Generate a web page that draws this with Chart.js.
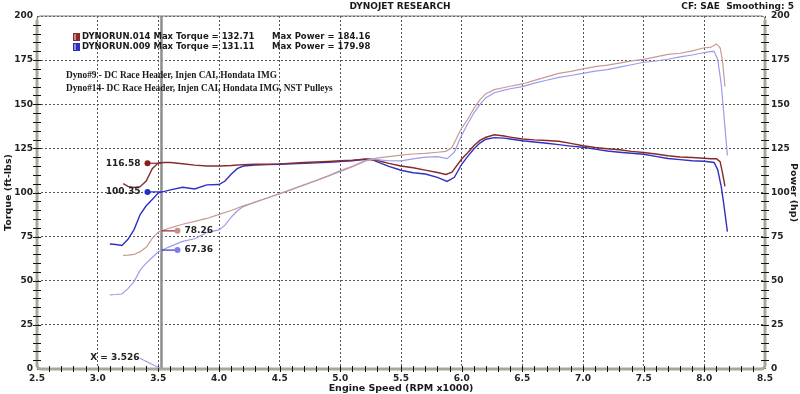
<!DOCTYPE html>
<html>
<head>
<meta charset="utf-8">
<script src="https://cdn.jsdelivr.net/npm/chart.js@4/dist/chart.umd.min.js"></script>
<style>
  html, body { margin: 0; padding: 0; background: #fff; }
  #wrap { width: 800px; height: 394px; }
</style>
</head>
<body>
<div id="wrap"><canvas id="dyno" width="800" height="394"></canvas></div>
<script>
// ---- data ----
const rpm014 = [3.21, 3.25, 3.3, 3.35, 3.4, 3.45, 3.5, 3.55, 3.6, 3.7, 3.8, 3.9, 4.0, 4.1, 4.2, 4.3, 4.4, 4.5, 4.6, 4.7, 4.8, 4.9, 5.0, 5.1, 5.2, 5.3, 5.4, 5.5, 5.6, 5.7, 5.8, 5.87, 5.92, 6.0, 6.05, 6.1, 6.15, 6.2, 6.27, 6.35, 6.4, 6.5, 6.6, 6.7, 6.8, 6.9, 7.0, 7.1, 7.2, 7.3, 7.4, 7.5, 7.6, 7.7, 7.8, 7.9, 8.0, 8.05, 8.1, 8.13, 8.15, 8.17];
const torque014 = [105, 103.5, 102.8, 103.3, 106.5, 113.5, 116.8, 117, 117, 116.3, 115.5, 115, 115, 115.3, 115.8, 116, 116, 116.2, 116.6, 117, 117.3, 117.6, 118, 118.3, 118.8, 118.3, 116.5, 115, 114, 112.7, 111.3, 110.2, 111.5, 119, 122.5, 126.5, 129.5, 131.3, 132.7, 132, 131.4, 130.3, 129.8, 129.5, 129, 127.8, 126.5, 125.5, 124.8, 124.2, 123.3, 122.7, 121.8, 120.8, 120.1, 119.8, 119.4, 119.1, 119.2, 117.5, 111, 103.5];
const power014 = [64.4, 64.5, 64.9, 66.5, 69, 74, 77.6, 78.8, 80, 82, 83.6, 85.3, 87.6, 89.8, 92.4, 94.5, 97, 99.4, 101.8, 104.4, 106.8, 109.5, 112.4, 114.8, 118, 119.5, 120.3, 121.2, 121.8, 122.2, 122.8, 123.3, 125.5, 136.5, 141.5, 147.5, 152.5, 156, 158.3, 159.5, 160.2, 161.5, 163.5, 165.5, 167.5, 168.6, 170, 171.3, 172.2, 173.3, 174.6, 175.4, 176.8, 178.3, 178.9, 180.2, 182, 182.2, 184.2, 182, 174.5, 160];

const rpm009 = [3.1, 3.15, 3.2, 3.25, 3.3, 3.35, 3.4, 3.45, 3.5, 3.55, 3.6, 3.7, 3.8, 3.9, 4.0, 4.05, 4.1, 4.15, 4.2, 4.3, 4.4, 4.5, 4.6, 4.7, 4.8, 4.9, 5.0, 5.1, 5.2, 5.25, 5.3, 5.4, 5.5, 5.6, 5.7, 5.8, 5.88, 5.94, 6.0, 6.05, 6.1, 6.15, 6.2, 6.27, 6.35, 6.4, 6.5, 6.6, 6.7, 6.8, 6.9, 7.0, 7.1, 7.2, 7.3, 7.4, 7.5, 7.6, 7.7, 7.8, 7.9, 8.0, 8.05, 8.08, 8.11, 8.14, 8.16, 8.19];
const torque009 = [70.8, 70.5, 70, 73.5, 79, 87.5, 92.5, 96, 99.8, 100.6, 101.5, 103, 102, 104.3, 104.5, 106.5, 110.3, 113.5, 115, 115.6, 115.8, 116, 116.2, 116.5, 116.8, 117.1, 117.5, 118, 118.8, 119, 117.5, 114.8, 112.6, 111.2, 110.5, 108.6, 106.3, 108.6, 116, 120.5, 124.6, 128, 130.2, 131.1, 130.8, 130.3, 129.3, 128.6, 127.9, 127.1, 126.3, 125.6, 124.6, 123.5, 122.8, 122.2, 121.7, 120.5, 119.3, 118.6, 118, 117.7, 117.3, 117, 113, 103, 93.5, 77.8];
const power009 = [42, 42.2, 42.5, 45.5, 49.5, 56, 60, 63.2, 66.4, 68, 69.5, 72.3, 73.8, 77.3, 78.8, 81.5, 86, 89.5, 92, 94.7, 96.9, 99.3, 101.8, 104.2, 106.7, 109.3, 112, 114.6, 117.6, 118.9, 118.6, 118, 117.9, 119, 120, 120.3, 119.2, 122.9, 132.5, 139, 145, 149.8, 153.7, 156.5, 158, 158.8, 160, 162, 163.6, 165.2, 166.3, 167.5, 168.8, 169.6, 171, 172.4, 173.8, 174.5, 175.5, 176.8, 177.9, 179.3, 179.8, 180, 175.5, 161, 145, 121];

const runNames = ['DYNORUN.014', 'DYNORUN.009'];
const maxTorque = [132.71, 131.11];
const maxPower = [184.16, 179.98];
const cursorRpm = 3.526;
const cursorTorque = [116.58, 100.35];
const cursorPower = [78.26, 67.36];
const noteLines = ['Dyno#9 - DC Race Header, Injen CAI, Hondata IMG',
                   'Dyno#14- DC Race Header, Injen CAI, Hondata IMG, NST Pulleys'];
const xTickRange = [2.5, 8.5];
const yTickRange = [0, 200];

// ---- styles ----
const FONT = 'DejaVu Sans';
const torqueColors = ['#862a2a', '#3030c0'];
const powerColors = ['#c99a95', '#9c9cea'];
const dotTorque = ['#8a1c1c', '#1d2ed2'];
const dotPower = ['#c48e89', '#7d7df0'];

const pairs = (xs, ys) => xs.map((x, i) => ({ x: x, y: ys[i] }));

function line(label, data, color, width, axis) {
    return {
        label: label, data: data, yAxisID: axis,
        borderColor: color, borderWidth: width,
        pointRadius: 0, tension: 0, fill: false
    };
}

// frame, cursor, readouts and text blocks
const dynoSheet = {
    id: 'dynoSheet',
    beforeDatasetsDraw(chart) {
        const { ctx, chartArea: a, scales } = chart;
        const cx = scales.x.getPixelForValue(cursorRpm);
        ctx.save();
        ctx.strokeStyle = '#8e8e8e';
        ctx.lineWidth = 2.5;
        ctx.beginPath();
        ctx.moveTo(cx, a.top);
        ctx.lineTo(cx, a.bottom);
        ctx.stroke();
        ctx.restore();
    },
    afterDatasetsDraw(chart) {
        const { ctx, chartArea: a, scales } = chart;
        const x = scales.x, y = scales.y;
        const r = 4;
        ctx.save();

        // thin top outline with rounded corners
        ctx.strokeStyle = '#7a7a7a';
        ctx.lineWidth = 1.2;
        ctx.beginPath();
        ctx.roundRect(a.left, a.top, a.right - a.left, a.bottom - a.top, r);
        ctx.stroke();

        // heavy axis bars
        ctx.strokeStyle = '#a9a799';
        ctx.lineWidth = 3;
        ctx.beginPath();
        ctx.moveTo(a.left, a.top + r);
        ctx.lineTo(a.left, a.bottom - r);
        ctx.arcTo(a.left, a.bottom, a.left + r, a.bottom, r);
        ctx.lineTo(a.right - r, a.bottom);
        ctx.arcTo(a.right, a.bottom, a.right, a.bottom - r, r);
        ctx.lineTo(a.right, a.top + r);
        ctx.stroke();

        // minor ticks
        ctx.strokeStyle = '#111';
        ctx.lineWidth = 1;
        ctx.beginPath();
        for (let v = yTickRange[0] + 5; v < yTickRange[1]; v += 5) {
            const py = Math.round(y.getPixelForValue(v)) + 0.5;
            ctx.moveTo(a.left - 4, py); ctx.lineTo(a.left + 4, py);
            ctx.moveTo(a.right - 4, py); ctx.lineTo(a.right + 4, py);
        }
        for (let i = 1; i < (xTickRange[1] - xTickRange[0]) * 10; i++) {
            const px = Math.round(x.getPixelForValue(xTickRange[0] + i / 10)) + 0.5;
            ctx.moveTo(px, a.bottom - 3); ctx.lineTo(px, a.bottom + 3);
        }
        ctx.stroke();

        // cursor readouts
        const cx = x.getPixelForValue(cursorRpm);
        ctx.font = 'bold 9px ' + FONT;
        ctx.textBaseline = 'middle';
        for (let i = 0; i < 2; i++) {
            // torque: dot left of the cursor, value to its left
            let py = y.getPixelForValue(cursorTorque[i]);
            ctx.strokeStyle = torqueColors[i];
            ctx.lineWidth = 1.2;
            ctx.beginPath(); ctx.moveTo(cx - 14, py); ctx.lineTo(cx, py); ctx.stroke();
            ctx.fillStyle = dotTorque[i];
            ctx.beginPath(); ctx.arc(cx - 14, py, 3, 0, Math.PI * 2); ctx.fill();
            ctx.fillStyle = '#222';
            ctx.textAlign = 'right';
            ctx.fillText(cursorTorque[i].toFixed(2), cx - 21, py);

            // power: dot right of the cursor, value to its right
            py = y.getPixelForValue(cursorPower[i]);
            ctx.strokeStyle = torqueColors[i];
            ctx.beginPath(); ctx.moveTo(cx, py); ctx.lineTo(cx + 16, py); ctx.stroke();
            ctx.fillStyle = dotPower[i];
            ctx.beginPath(); ctx.arc(cx + 16, py, 3, 0, Math.PI * 2); ctx.fill();
            ctx.fillStyle = '#222';
            ctx.textAlign = 'left';
            ctx.fillText(cursorPower[i].toFixed(2), cx + 23, py);
        }

        // cursor position label with leader
        ctx.textAlign = 'right';
        ctx.fillText('X = ' + cursorRpm.toFixed(3), cx - 22, a.bottom - 11);
        ctx.strokeStyle = '#9c9cea';
        ctx.beginPath();
        ctx.moveTo(cx - 22, a.bottom - 11);
        ctx.lineTo(cx, a.bottom);
        ctx.stroke();

        // run legend
        ctx.textAlign = 'left';
        ctx.font = 'bold 8.5px ' + FONT;
        for (let i = 0; i < runNames.length; i++) {
            const ly = 37 + i * 10;
            ctx.fillStyle = torqueColors[i];
            ctx.fillRect(73, ly - 4, 7, 8);
            ctx.fillStyle = 'rgba(255,255,255,0.45)';
            ctx.fillRect(74, ly - 3, 2, 6);
            ctx.fillStyle = '#1a1a1a';
            ctx.fillText(runNames[i] + ' Max Torque = ' + maxTorque[i].toFixed(2), 82, ly);
            ctx.fillText('Max Power = ' + maxPower[i].toFixed(2), 272, ly);
        }

        // notes
        ctx.font = 'bold 9.3px "Liberation Serif"';
        ctx.fillStyle = '#1a1a1a';
        noteLines.forEach((t, i) => ctx.fillText(t, 66, 76 + i * 13));

        // header right
        ctx.font = 'bold 9px ' + FONT;
        ctx.textAlign = 'right';
        ctx.fillText('CF: SAE  Smoothing: 5', 794, 7);
        ctx.restore();
    }
};

const tickFont = { family: FONT, size: 9, weight: 'bold' };
const titleFont = { family: FONT, size: 9.5, weight: 'bold' };

new Chart(document.getElementById('dyno'), {
    type: 'line',
    data: {
        datasets: [
            line('Power 014', pairs(rpm014, power014), powerColors[0], 1.2, 'y'),
            line('Power 009', pairs(rpm009, power009), powerColors[1], 1.2, 'y'),
            line('Torque 014', pairs(rpm014, torque014), torqueColors[0], 1.4, 'y'),
            line('Torque 009', pairs(rpm009, torque009), torqueColors[1], 1.4, 'y')
        ]
    },
    options: {
        responsive: false,
        animation: false,
        layout: { padding: 0 },
        plugins: {
            legend: { display: false },
            tooltip: { enabled: false },
            title: {
                display: true, text: 'DYNOJET RESEARCH', color: '#1a1a1a',
                font: { family: FONT, size: 9, weight: 'bold' },
                padding: { top: 1.5, bottom: 3.7 }
            }
        },
        scales: {
            x: {
                type: 'linear', min: xTickRange[0], max: xTickRange[1],
                ticks: { stepSize: 0.5, color: '#222', font: tickFont, padding: 4,
                         callback: v => v.toFixed(1) },
                grid: { color: '#555', drawTicks: false },
                border: { display: false, dash: [2, 2] },
                title: { display: true, text: 'Engine Speed (RPM x1000)', color: '#1a1a1a',
                         font: titleFont, padding: 0 },
                afterFit: s => { s.height = 25; }
            },
            y: {
                position: 'left', min: yTickRange[0], max: yTickRange[1],
                ticks: { stepSize: 25, color: '#222', font: tickFont, padding: 4 },
                grid: { color: '#555', drawTicks: false },
                border: { display: false, dash: [2, 2] },
                title: { display: true, text: 'Torque (ft-lbs)', color: '#1a1a1a',
                         font: titleFont, padding: { top: 3, bottom: 0 } },
                afterFit: s => { s.width = 37; }
            },
            y1: {
                position: 'right', min: yTickRange[0], max: yTickRange[1],
                ticks: { stepSize: 25, color: '#222', font: tickFont, padding: 6 },
                grid: { drawOnChartArea: false, drawTicks: false },
                border: { display: false },
                title: { display: true, text: 'Power (hp)', color: '#1a1a1a',
                         font: titleFont, padding: { top: 1, bottom: 0 } },
                afterFit: s => { s.width = 35; }
            }
        }
    },
    plugins: [dynoSheet]
});
</script>
</body>
</html>
